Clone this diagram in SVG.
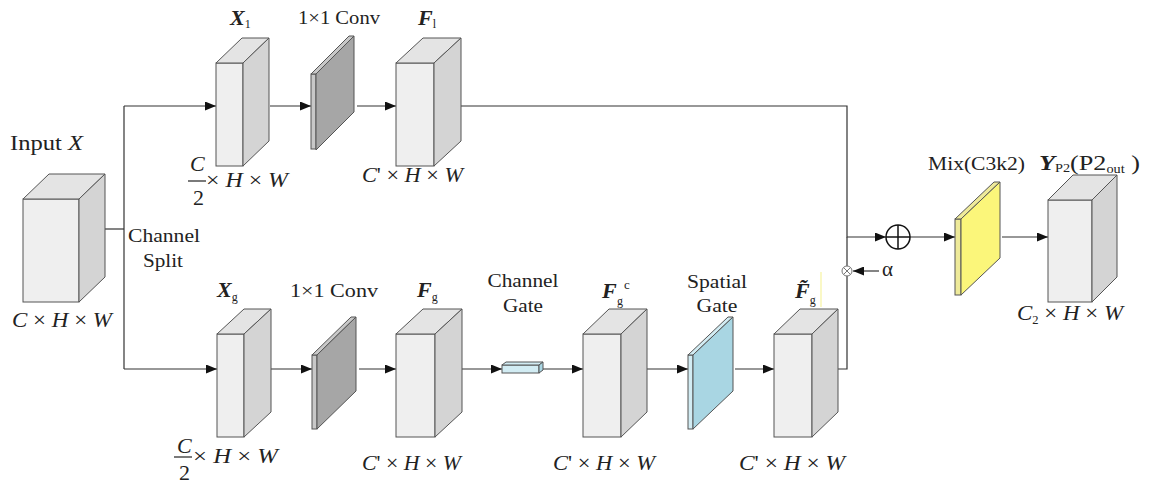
<svg xmlns="http://www.w3.org/2000/svg" width="1149" height="489" viewBox="0 0 1149 489" font-family="Liberation Serif, Times New Roman, serif">
<defs>
<style>
.cf{fill:#efefef;stroke:#555;stroke-width:1}
.ct{fill:#e4e4e4;stroke:#555;stroke-width:1}
.cs{fill:#d4d4d4;stroke:#555;stroke-width:1}
.pg{fill:#a6a6a6;stroke:#555;stroke-width:1}
.pgs{fill:#c8c8c8;stroke:#555;stroke-width:1}
.pb{fill:#a9d6e3;stroke:#555;stroke-width:1}
.pbs{fill:#d2ecf3;stroke:#555;stroke-width:1}
.py{fill:#fbf67a;stroke:#555;stroke-width:1}
.pys{fill:#eeea9a;stroke:#555;stroke-width:1}
.ln{fill:none;stroke:#333;stroke-width:1.2}
text{font-family:'Liberation Serif','Times New Roman',serif;fill:#222}
.bi{font-weight:bold;font-style:italic}
.i{font-style:italic}
</style>
<marker id="ah" markerWidth="11" markerHeight="9" refX="11" refY="4.5" orient="auto" markerUnits="userSpaceOnUse">
<path d="M0,0 L11,4.5 L0,9 Z" fill="#111"/>
</marker>
</defs>
<rect width="1149" height="489" fill="#fff"/>

<g id="connectors">
<polyline class="ln" points="105,229 124,229"/>
<polyline class="ln" points="124,106 124,369"/>
<polyline class="ln" points="124,106 216,106" marker-end="url(#ah)"/>
<polyline class="ln" points="124,369 217,369" marker-end="url(#ah)"/>
<polyline class="ln" points="270,106 311,106" marker-end="url(#ah)"/>
<polyline class="ln" points="357,106 396,106" marker-end="url(#ah)"/>
<polyline class="ln" points="461,106 847,106 847,237 886,237" marker-end="url(#ah)"/>
<polyline class="ln" points="271,369 312,369" marker-end="url(#ah)"/>
<polyline class="ln" points="359,369 396,369" marker-end="url(#ah)"/>
<polyline class="ln" points="462,369 502,369" marker-end="url(#ah)"/>
<polyline class="ln" points="543,369 583,369" marker-end="url(#ah)"/>
<polyline class="ln" points="647,369 688,369" marker-end="url(#ah)"/>
<polyline class="ln" points="735,369 774,369" marker-end="url(#ah)"/>
<polyline class="ln" points="838,369 847,369 847,237"/>
<polyline class="ln" points="910,237 955,237" marker-end="url(#ah)"/>
<polyline class="ln" points="1002,237 1048,237" marker-end="url(#ah)"/>
<polyline class="ln" points="879,271 853,271" marker-end="url(#ah)"/>
</g>

<g id="input">
<rect class="cf" x="23" y="199" width="56" height="103"/>
<path class="ct" d="M23,199 L49,174 L105,174 L79,199 Z"/>
<path class="cs" d="M79,199 L105,174 L105,277 L79,302 Z"/>
<text x="10" y="150" font-size="22" textLength="73" lengthAdjust="spacingAndGlyphs">Input <tspan class="i">X</tspan></text>
<text x="12" y="327" font-size="22" textLength="100" lengthAdjust="spacingAndGlyphs"><tspan class="i">C</tspan> × <tspan class="i">H</tspan> × <tspan class="i">W</tspan></text>
</g>

<g id="split-label">
<text x="128" y="242" font-size="19" textLength="72" lengthAdjust="spacingAndGlyphs">Channel</text>
<text x="143" y="267" font-size="19" textLength="40" lengthAdjust="spacingAndGlyphs">Split</text>
</g>

<g id="x1">
<rect class="cf" x="216" y="63" width="27" height="103"/>
<path class="ct" d="M216,63 L242,38 L269,38 L243,63 Z"/>
<path class="cs" d="M243,63 L269,38 L269,141 L243,166 Z"/>
<text class="bi" x="230" y="25" font-size="22">X<tspan font-size="12" font-weight="normal" font-style="normal" dy="3">1</tspan></text>
<text class="i" x="190" y="171" font-size="22">C</text>
<line x1="188" y1="181" x2="206" y2="181" stroke="#222" stroke-width="1.2"/>
<text x="193" y="205" font-size="22">2</text>
<text x="206" y="187" font-size="20" textLength="82" lengthAdjust="spacingAndGlyphs">× <tspan class="i">H</tspan> × <tspan class="i">W</tspan></text>
</g>

<g id="conv1">
<rect class="pgs" x="311" y="74" width="5" height="75"/>
<path class="pgs" d="M311,74 L349,36 L354,36 L316,74 Z"/>
<path class="pg" d="M316,74 L354,36 L354,112 L316,150 Z"/>
<text x="298" y="24" font-size="18" textLength="82" lengthAdjust="spacingAndGlyphs">1×1 Conv</text>
</g>

<g id="f1">
<rect class="cf" x="396" y="63" width="38" height="103"/>
<path class="ct" d="M396,63 L423,38 L461,38 L434,63 Z"/>
<path class="cs" d="M434,63 L461,38 L461,141 L434,166 Z"/>
<text class="bi" x="418" y="25" font-size="22">F<tspan font-size="12" font-weight="normal" font-style="normal" dy="3">l</tspan></text>
<text x="362" y="182" font-size="22" textLength="101" lengthAdjust="spacingAndGlyphs"><tspan class="i">C</tspan>' × <tspan class="i">H</tspan> × <tspan class="i">W</tspan></text>
</g>

<g id="xg">
<rect class="cf" x="217" y="334" width="27" height="103"/>
<path class="ct" d="M217,334 L244,309 L271,309 L244,334 Z"/>
<path class="cs" d="M244,334 L271,309 L271,412 L244,437 Z"/>
<text class="bi" x="217" y="297" font-size="22">X<tspan font-size="12" font-weight="normal" font-style="normal" dy="4">g</tspan></text>
<text class="i" x="177" y="453" font-size="22">C</text>
<line x1="174" y1="457" x2="192" y2="457" stroke="#222" stroke-width="1.2"/>
<text x="179" y="480" font-size="22">2</text>
<text x="193" y="463" font-size="20" textLength="85" lengthAdjust="spacingAndGlyphs">× <tspan class="i">H</tspan> × <tspan class="i">W</tspan></text>
</g>

<g id="conv2">
<rect class="pgs" x="312" y="355" width="5" height="74"/>
<path class="pgs" d="M312,355 L351,317 L356,317 L317,355 Z"/>
<path class="pg" d="M317,355 L356,317 L356,391 L317,429 Z"/>
<text x="290" y="297" font-size="18" textLength="88" lengthAdjust="spacingAndGlyphs">1×1 Conv</text>
</g>

<g id="fg">
<rect class="cf" x="396" y="334" width="39" height="103"/>
<path class="ct" d="M396,334 L423,309 L462,309 L435,334 Z"/>
<path class="cs" d="M435,334 L462,309 L462,412 L435,437 Z"/>
<text class="bi" x="417" y="297" font-size="22">F<tspan font-size="12" font-weight="normal" font-style="normal" dy="4">g</tspan></text>
<text x="362" y="470" font-size="22" textLength="99" lengthAdjust="spacingAndGlyphs"><tspan class="i">C</tspan>' × <tspan class="i">H</tspan> × <tspan class="i">W</tspan></text>
</g>

<g id="channel-gate">
<rect class="pbs" x="502" y="365" width="37" height="8"/>
<path class="pbs" d="M502,365 L506,362 L543,362 L539,365 Z"/>
<path class="pb" d="M539,365 L543,362 L543,370 L539,373 Z"/>
<text x="523" y="287" font-size="19" text-anchor="middle" textLength="71" lengthAdjust="spacingAndGlyphs">Channel</text>
<text x="523" y="312" font-size="19" text-anchor="middle" textLength="40" lengthAdjust="spacingAndGlyphs">Gate</text>
</g>

<g id="fgc">
<rect class="cf" x="583" y="334" width="38" height="103"/>
<path class="ct" d="M583,334 L609,309 L647,309 L621,334 Z"/>
<path class="cs" d="M621,334 L647,309 L647,412 L621,437 Z"/>
<text class="bi" x="602" y="298" font-size="22">F</text>
<text x="617" y="305" font-size="12">g</text>
<text x="624" y="289" font-size="13">c</text>
<text x="553" y="470" font-size="22" textLength="102" lengthAdjust="spacingAndGlyphs"><tspan class="i">C</tspan>' × <tspan class="i">H</tspan> × <tspan class="i">W</tspan></text>
</g>

<g id="spatial-gate">
<rect class="pbs" x="688" y="355" width="5" height="74"/>
<path class="pbs" d="M688,355 L728,317 L733,317 L693,355 Z"/>
<path class="pb" d="M693,355 L733,317 L733,391 L693,429 Z"/>
<text x="717" y="288" font-size="19" text-anchor="middle" textLength="60" lengthAdjust="spacingAndGlyphs">Spatial</text>
<text x="717" y="312" font-size="19" text-anchor="middle" textLength="41" lengthAdjust="spacingAndGlyphs">Gate</text>
</g>

<g id="fg-tilde">
<rect class="cf" x="774" y="334" width="38" height="103"/>
<path class="ct" d="M774,334 L800,309 L838,309 L812,334 Z"/>
<path class="cs" d="M812,334 L838,309 L838,412 L812,437 Z"/>
<text class="bi" x="795" y="298" font-size="22">F&#x303;<tspan font-size="12" font-weight="normal" font-style="normal" dy="6">g</tspan></text>
<line x1="821" y1="272" x2="821" y2="307" stroke="#f7f3a0" stroke-width="1.2"/>
<text x="739" y="470" font-size="22" textLength="106" lengthAdjust="spacingAndGlyphs"><tspan class="i">C</tspan>' × <tspan class="i">H</tspan> × <tspan class="i">W</tspan></text>
</g>

<g id="mult">
<circle cx="847" cy="271" r="5" fill="#fff" stroke="#777" stroke-width="1"/>
<line x1="843.5" y1="267.5" x2="850.5" y2="274.5" stroke="#777" stroke-width="1"/>
<line x1="850.5" y1="267.5" x2="843.5" y2="274.5" stroke="#777" stroke-width="1"/>
<text x="882" y="276" font-size="21">α</text>
</g>

<g id="add">
<circle cx="898" cy="237" r="12" fill="#fff" stroke="#111" stroke-width="1.5"/>
<line x1="886" y1="237" x2="910" y2="237" stroke="#111" stroke-width="1.5"/>
<line x1="898" y1="225" x2="898" y2="249" stroke="#111" stroke-width="1.5"/>
</g>

<g id="mix">
<rect class="pys" x="955" y="219" width="6" height="76"/>
<path class="pys" d="M955,219 L994,182 L1000,182 L961,219 Z"/>
<path class="py" d="M961,219 L1000,182 L1000,258 L961,295 Z"/>
<text x="928" y="170" font-size="19" textLength="97" lengthAdjust="spacingAndGlyphs">Mix(C3k2)</text>
</g>

<g id="output">
<rect class="cf" x="1048" y="200" width="44" height="102"/>
<path class="ct" d="M1048,200 L1073,175 L1117,175 L1092,200 Z"/>
<path class="cs" d="M1092,200 L1117,175 L1117,277 L1092,302 Z"/>
<text x="1039" y="170" font-size="22" textLength="101" lengthAdjust="spacingAndGlyphs"><tspan class="bi">Y</tspan><tspan font-size="12" dy="2">P2</tspan><tspan dy="-2">(P2</tspan><tspan font-size="12" dy="3">out</tspan><tspan dy="-3"> )</tspan></text>
<text x="1017" y="320" font-size="22" textLength="106" lengthAdjust="spacingAndGlyphs"><tspan class="i">C</tspan><tspan font-size="12" dy="4">2</tspan><tspan dy="-4"> × </tspan><tspan class="i">H</tspan> × <tspan class="i">W</tspan></text>
</g>
</svg>
